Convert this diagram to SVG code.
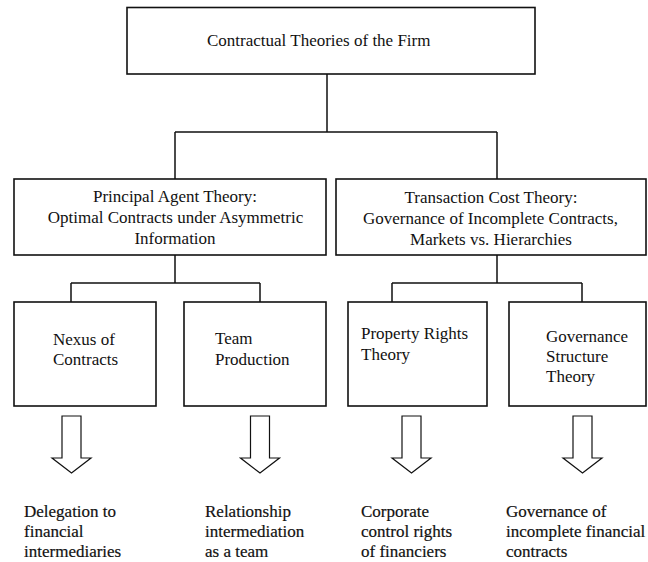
<svg xmlns="http://www.w3.org/2000/svg" width="648" height="562" viewBox="0 0 648 562">
<style>
.box{fill:#fff;stroke:#111;stroke-width:1.6}
.con{fill:none;stroke:#111;stroke-width:1.5}
.arr{fill:#fff;stroke:#111;stroke-width:1.2;stroke-linejoin:miter}
text{font-size:17px;fill:#111}
.mid{text-anchor:middle}
.out{stroke:#111;stroke-width:0.2}
</style>
<rect width="648" height="562" fill="#fff"/>
<g id="connectors">
<path class="con" d="M327,74 V132 M175,132 H497 M175,132 V179 M497,132 V179"/>
<path class="con" d="M175,255 V283 M71,283 H260 M71,283 V302 M260,283 V302"/>
<path class="con" d="M497,255 V283 M392,283 H582 M392,283 V302 M582,283 V302"/>
</g>
<g font-family="Liberation Serif, Times New Roman, DejaVu Serif, serif">
<g id="root">
<rect class="box" x="127" y="7.5" width="408" height="66.5"/>
<text x="207" y="46">Contractual Theories of the Firm</text>
</g>
<g id="principal-agent">
<rect class="box" x="14" y="179" width="312" height="76"/>
<text class="mid" x="175" y="202">Principal Agent Theory:</text>
<text class="mid" x="175.5" y="223">Optimal Contracts under Asymmetric</text>
<text class="mid" x="175" y="244">Information</text>
</g>
<g id="transaction-cost">
<rect class="box" x="336" y="179" width="310" height="76"/>
<text class="mid" x="491" y="203">Transaction Cost Theory:</text>
<text class="mid" x="490.5" y="224">Governance of Incomplete Contracts,</text>
<text class="mid" x="491" y="245">Markets vs. Hierarchies</text>
</g>
<g id="nexus">
<rect class="box" x="14" y="302" width="142" height="104"/>
<text x="53" y="345">Nexus of</text>
<text x="53" y="365">Contracts</text>
</g>
<g id="team">
<rect class="box" x="184" y="302" width="142" height="104"/>
<text x="215" y="344">Team</text>
<text x="215" y="365">Production</text>
</g>
<g id="property-rights">
<rect class="box" x="348" y="302" width="139" height="104"/>
<text x="361" y="339">Property Rights</text>
<text x="361" y="360">Theory</text>
</g>
<g id="governance-structure">
<rect class="box" x="509" y="302" width="137" height="104"/>
<text x="546" y="342">Governance</text>
<text x="546" y="362">Structure</text>
<text x="546" y="382">Theory</text>
</g>
<g id="arrows">
<polygon class="arr" points="62,416 81,416 81,458 91,458 71.5,473 52,458 62,458"/>
<polygon class="arr" points="250.5,416 269.5,416 269.5,458 279.5,458 260,473 240.5,458 250.5,458"/>
<polygon class="arr" points="402,416 421,416 421,458 431,458 411.5,473 392,458 402,458"/>
<polygon class="arr" points="573,416 592,416 592,458 602,458 582.5,473 563,458 573,458"/>
</g>
<g id="out-delegation">
<text class="out" x="24" y="517">Delegation to</text>
<text class="out" x="24" y="537">financial</text>
<text class="out" x="24" y="557">intermediaries</text>
</g>
<g id="out-relationship">
<text class="out" x="205" y="517">Relationship</text>
<text class="out" x="205" y="537">intermediation</text>
<text class="out" x="205" y="557">as a team</text>
</g>
<g id="out-corporate">
<text class="out" x="361" y="517">Corporate</text>
<text class="out" x="361" y="537">control rights</text>
<text class="out" x="361" y="557">of financiers</text>
</g>
<g id="out-governance">
<text class="out" x="506" y="517">Governance of</text>
<text class="out" x="506" y="537">incomplete financial</text>
<text class="out" x="506" y="557">contracts</text>
</g>
</g>
</svg>
